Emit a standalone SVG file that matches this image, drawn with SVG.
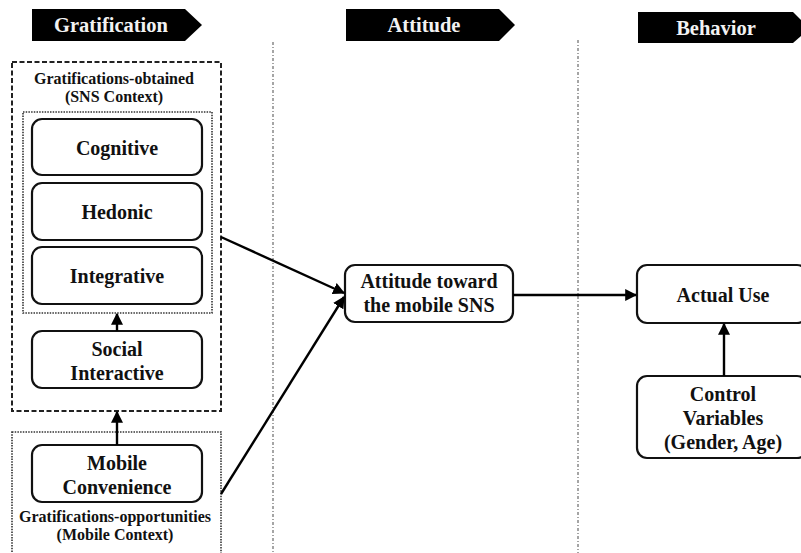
<svg xmlns="http://www.w3.org/2000/svg" width="801" height="553" viewBox="0 0 801 553">
<style>
text{font-family:"Liberation Serif","Times New Roman",serif;font-weight:bold;text-anchor:middle;fill:#111}
.banner{fill:#000}
.btxt{fill:#f2f2f2;font-size:20.5px}
.node{fill:#fff;stroke:#111;stroke-width:2.2}
.t20{font-size:20px}
.t14{font-size:16px}
.dash{fill:none;stroke:#222;stroke-width:2;stroke-dasharray:5,2.5}
.dot{fill:none;stroke:#333;stroke-width:1.6;stroke-dasharray:1.5,1.2}
.sep{fill:none;stroke:#888;stroke-width:1.5;stroke-dasharray:3,2,1,2}
.conn{fill:none;stroke:#000;stroke-width:2.4}
</style>
<defs>
<marker id="ah" viewBox="0 0 10 10" refX="9" refY="5" markerWidth="5" markerHeight="5" orient="auto-start-reverse" markerUnits="strokeWidth">
<path d="M0,0 L10,5 L0,10 z" fill="#000"/>
</marker>
</defs>
<rect width="801" height="553" fill="#fff"/>

<g id="banners">
<g id="banner-gratification"><polygon class="banner" points="32,9 185,9 202,25 185,41 32,41"/><text class="btxt" x="111" y="32">Gratification</text></g>
<g id="banner-attitude"><polygon class="banner" points="346,9 499,9 515,25 499,41 346,41"/><text class="btxt" x="424" y="32">Attitude</text></g>
<g id="banner-behavior"><polygon class="banner" points="638,12 793,12 801,20 801,36 793,43 638,43"/><text class="btxt" x="716" y="35">Behavior</text></g>
</g>

<g id="separators">
<line class="sep" x1="273" y1="42" x2="273" y2="553"/>
<line class="sep" x1="578" y1="40" x2="578" y2="553"/>
</g>

<g id="group-obtained">
<rect class="dash" x="12" y="62" width="209" height="349"/>
<text class="t14" x="114" y="84">Gratifications-obtained</text>
<text class="t14" x="114" y="102">(SNS Context)</text>
<rect class="dot" x="23" y="112" width="189" height="201"/>
</g>

<g id="group-opportunities">
<rect class="dot" x="12" y="432" width="209" height="125"/>
<text class="t14" x="115" y="522">Gratifications-opportunities</text>
<text class="t14" x="115" y="540">(Mobile Context)</text>
</g>

<g id="cognitive"><rect class="node" x="32" y="119" width="170" height="56" rx="10"/><text class="t20" x="117" y="155">Cognitive</text></g>
<g id="hedonic"><rect class="node" x="32" y="183" width="170" height="57" rx="10"/><text class="t20" x="117" y="219">Hedonic</text></g>
<g id="integrative"><rect class="node" x="32" y="247" width="170" height="57" rx="10"/><text class="t20" x="117" y="283">Integrative</text></g>
<g id="social"><rect class="node" x="32" y="331" width="170" height="57" rx="10"/><text class="t20" x="117" y="356">Social</text><text class="t20" x="117" y="380">Interactive</text></g>
<g id="mobile"><rect class="node" x="32" y="445" width="170" height="57" rx="10"/><text class="t20" x="117" y="470">Mobile</text><text class="t20" x="117" y="494">Convenience</text></g>

<g id="attitude"><rect class="node" x="345" y="265" width="168" height="57" rx="10"/><text class="t20" x="429" y="288">Attitude toward</text><text class="t20" x="429" y="312">the mobile SNS</text></g>
<g id="actual-use"><rect class="node" x="637" y="265" width="170" height="58" rx="10"/><text class="t20" x="723" y="302">Actual Use</text></g>
<g id="control"><rect class="node" x="637" y="376" width="170" height="82" rx="10"/><text class="t20" x="723" y="401">Control</text><text class="t20" x="723" y="425">Variables</text><text class="t20" x="723" y="449">(Gender, Age)</text></g>

<g id="connectors">
<line class="conn" x1="117" y1="331" x2="117" y2="314" marker-end="url(#ah)"/>
<line class="conn" x1="117" y1="445" x2="117" y2="412" marker-end="url(#ah)"/>
<line class="conn" x1="221" y1="237" x2="344" y2="293" marker-end="url(#ah)"/>
<line class="conn" x1="221" y1="494" x2="344" y2="297" marker-end="url(#ah)"/>
<line class="conn" x1="513" y1="295" x2="636" y2="295" marker-end="url(#ah)"/>
<line class="conn" x1="724" y1="376" x2="724" y2="324" marker-end="url(#ah)"/>
</g>
</svg>
